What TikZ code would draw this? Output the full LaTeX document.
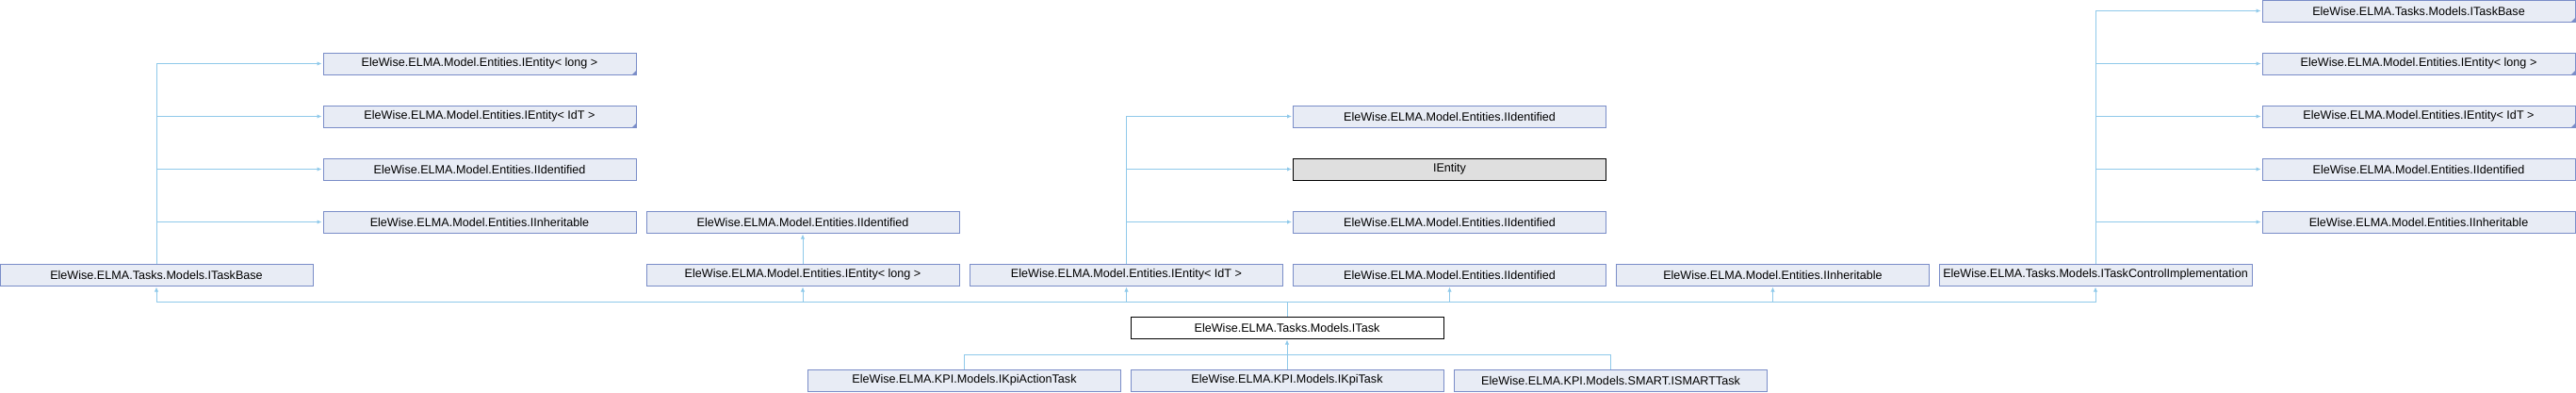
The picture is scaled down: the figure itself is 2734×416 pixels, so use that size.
\documentclass[tikz,border=0pt]{standalone}
\usepackage{fontspec}
\setmainfont{Liberation Sans}
\usepackage{tikz}
\usetikzlibrary{arrows.meta}
\definecolor{boxfill}{RGB}{232,236,245}
\definecolor{boxline}{RGB}{122,141,200}
\definecolor{edgeblue}{RGB}{143,201,234}
\definecolor{curfill}{RGB}{223,223,223}

\begin{document}
\begin{tikzpicture}[x=1pt,y=-1pt,
    cls/.style={rectangle,draw=boxline,fill=boxfill,line width=1pt,minimum width=332pt,minimum height=23pt,inner sep=0pt,font=\fontsize{12.6}{15}\selectfont},
    cur/.style={cls,draw=black,fill=curfill},
    top/.style={cls,draw=black,fill=white},
    edge/.style={draw=edgeblue,line width=1pt},
    inh/.style={edge,-{Latex[length=5pt,width=4.5pt]},shorten >=1pt}]
            \useasboundingbox (0,0) rectangle (2734,416);

            \node (base) at (166,291.5) [cls] {EleWise.ELMA.Tasks.Models.ITaskBase};
            \node (l1) at (509,67.5) [cls] {EleWise.ELMA.Model.Entities.IEntity< long >};
            \node (l2) at (509,123.5) [cls] {EleWise.ELMA.Model.Entities.IEntity< IdT >};
            \node (l3) at (509,179.5) [cls] {EleWise.ELMA.Model.Entities.IIdentified};
            \node (l4) at (509,235.5) [cls] {EleWise.ELMA.Model.Entities.IInheritable};

            \node (m1) at (852,235.5) [cls] {EleWise.ELMA.Model.Entities.IIdentified};
            \node (m2) at (852,291.5) [cls] {EleWise.ELMA.Model.Entities.IEntity< long >};
            \node (n0) at (1195.5,291.5) [cls] {EleWise.ELMA.Model.Entities.IEntity< IdT >};

            \node (p1) at (1538.5,123.5) [cls] {EleWise.ELMA.Model.Entities.IIdentified};
            \node (p2) at (1538.5,179.5) [cur] {IEntity};
            \node (p3) at (1538.5,235.5) [cls] {EleWise.ELMA.Model.Entities.IIdentified};
            \node (p4) at (1538.5,291.5) [cls] {EleWise.ELMA.Model.Entities.IIdentified};
            \node (q) at (1881.5,291.5) [cls] {EleWise.ELMA.Model.Entities.IInheritable};

            \node (ctl) at (2224,291.5) [cls] {EleWise.ELMA.Tasks.Models.ITaskControlImplementation};
            \node (r1) at (2567,11.5) [cls] {EleWise.ELMA.Tasks.Models.ITaskBase};
            \node (r2) at (2567,67.5) [cls] {EleWise.ELMA.Model.Entities.IEntity< long >};
            \node (r3) at (2567,123.5) [cls] {EleWise.ELMA.Model.Entities.IEntity< IdT >};
            \node (r4) at (2567,179.5) [cls] {EleWise.ELMA.Model.Entities.IIdentified};
            \node (r5) at (2567,235.5) [cls] {EleWise.ELMA.Model.Entities.IInheritable};

            \node (task) at (1366,347.5) [top] {EleWise.ELMA.Tasks.Models.ITask};
            \node (k1) at (1023.5,403.5) [cls] {EleWise.ELMA.KPI.Models.IKpiActionTask};
            \node (k2) at (1366,403.5) [cls] {EleWise.ELMA.KPI.Models.IKpiTask};
            \node (k3) at (1709.5,403.5) [cls] {EleWise.ELMA.KPI.Models.SMART.ISMARTTask};

            % truncated nodes
            \foreach \n in {l1,l2,r1,r2,r3}
                \fill[boxline] (\n.south east) -- ++(-5,0) -- ++(5,-5) -- cycle;

            \coordinate (bus) at (1366,320);
            \coordinate (kbus) at (1366,376);

            \draw[edge] (task.north) -- (bus);
            \draw[inh] (bus) -| (base);
            \draw[inh] (bus) -| (m2);
            \draw[inh] (bus) -| (n0);
            \draw[inh] (bus) -| (p4);
            \draw[inh] (bus) -| (q);
            \draw[inh] (bus) -| (ctl);
            \draw[inh] (m2) -- (m1);

            \foreach \n in {l1,l2,l3,l4}
                \draw[inh] (base.north) |- (\n.west);
            \foreach \n in {p1,p2,p3}
                \draw[inh] (n0.north) |- (\n.west);
            \foreach \n in {r1,r2,r3,r4,r5}
                \draw[inh] (ctl.north) |- (\n.west);

            \draw[edge] (k1.north) |- (kbus) (k3.north) |- (kbus);
            \draw[inh] (k2.north) -- (task.south);

        \end{tikzpicture}
\end{document}
